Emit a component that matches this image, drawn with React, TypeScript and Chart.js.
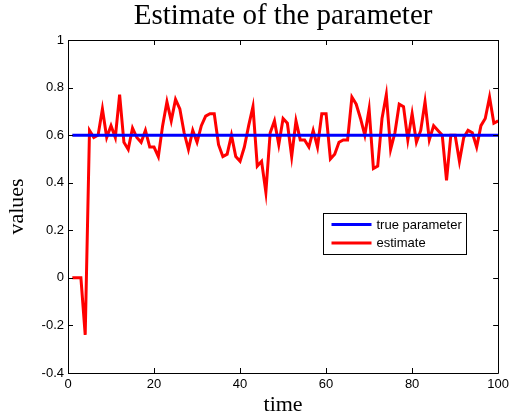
import React, { useEffect, useRef } from "react";
import { Chart, registerables } from "chart.js";

Chart.register(...registerables);

const timeSteps: number[] = Array.from({ length: 100 }, (_, i) => i + 1);
const trueParameter: number[] = timeSteps.map(() => 0.6);
const estimate: number[] = [
  0, 0, 0, -0.24, 0.62, 0.59, 0.6, 0.71, 0.59, 0.64,
  0.59, 0.77, 0.57, 0.54, 0.63, 0.59, 0.57, 0.62, 0.55, 0.55,
  0.51, 0.64, 0.74, 0.66, 0.75, 0.71, 0.61, 0.54, 0.62, 0.57,
  0.64, 0.68, 0.69, 0.69, 0.56, 0.51, 0.52, 0.6, 0.51, 0.49,
  0.55, 0.64, 0.72, 0.47, 0.49, 0.36, 0.61, 0.66, 0.56, 0.67,
  0.65, 0.51, 0.66, 0.58, 0.58, 0.55, 0.62, 0.55, 0.69, 0.69,
  0.5, 0.52, 0.57, 0.58, 0.58, 0.76, 0.73, 0.67, 0.6, 0.71,
  0.46, 0.47, 0.67, 0.77, 0.54, 0.61, 0.73, 0.72, 0.58, 0.69,
  0.57, 0.62, 0.74, 0.58, 0.64, 0.62, 0.6, 0.41, 0.6, 0.6,
  0.49, 0.59, 0.62, 0.61, 0.55, 0.64, 0.67, 0.76, 0.65, 0.66,
];
const xTicks: number[] = [0, 20, 40, 60, 80, 100];
const yTicks: number[] = [-0.4, -0.2, 0, 0.2, 0.4, 0.6, 0.8, 1];
const seriesNames: string[] = ["true parameter", "estimate"];
const seriesColors: string[] = ["#0000ff", "#ff0000"];

const frameAndLegend = {
  id: "frameAndLegend",
  afterDraw(chart: any) {
    const { ctx, chartArea, scales } = chart;
    const { left, right, top, bottom } = chartArea;
    ctx.save();
    ctx.strokeStyle = "#000";
    ctx.lineWidth = 1;
    ctx.beginPath();
    ctx.rect(Math.round(left) + 0.5, Math.round(top) + 0.5, Math.round(right - left), Math.round(bottom - top));
    ctx.stroke();
    const tl = 5;
    ctx.beginPath();
    xTicks.forEach((v) => {
      const x = Math.round(scales.x.getPixelForValue(v)) + 0.5;
      ctx.moveTo(x, bottom);
      ctx.lineTo(x, bottom - tl);
      ctx.moveTo(x, top);
      ctx.lineTo(x, top + tl);
    });
    yTicks.forEach((v) => {
      const y = Math.round(scales.y.getPixelForValue(v)) + 0.5;
      ctx.moveTo(left, y);
      ctx.lineTo(left + tl, y);
      ctx.moveTo(right, y);
      ctx.lineTo(right - tl, y);
    });
    ctx.stroke();

    // legend
    const bx = Math.round(left + 255) + 0.5;
    const by = Math.round(top + 173) + 0.5;
    const bw = 143;
    const bh = 41;
    ctx.fillStyle = "#fff";
    ctx.fillRect(bx, by, bw, bh);
    ctx.strokeStyle = "#000";
    ctx.lineWidth = 1;
    ctx.strokeRect(bx, by, bw, bh);
    ctx.font = "13px 'Liberation Sans', Arial, sans-serif";
    ctx.textBaseline = "middle";
    ctx.textAlign = "left";
    seriesNames.forEach((name, i) => {
      const y = by + 11 + i * 18.5;
      ctx.strokeStyle = seriesColors[i];
      ctx.lineWidth = 3;
      ctx.beginPath();
      ctx.moveTo(bx + 8, y);
      ctx.lineTo(bx + 48, y);
      ctx.stroke();
      ctx.fillStyle = "#000";
      ctx.fillText(name, bx + 53, y + 0.5);
    });
    ctx.restore();
  },
};

export default function App() {
  const canvasRef = useRef<HTMLCanvasElement | null>(null);

  useEffect(() => {
    if (!canvasRef.current) return;
    const chart = new Chart(canvasRef.current, {
      type: "line",
      data: {
        labels: timeSteps,
        datasets: [
          {
            label: seriesNames[0],
            data: timeSteps.map((t, i) => ({ x: t, y: trueParameter[i] })),
            borderColor: seriesColors[0],
            borderWidth: 3,
            pointRadius: 0,
            tension: 0,
          },
          {
            label: seriesNames[1],
            data: timeSteps.map((t, i) => ({ x: t, y: estimate[i] })),
            borderColor: seriesColors[1],
            borderWidth: 3,
            pointRadius: 0,
            tension: 0,
          },
        ],
      },
      options: {
        animation: false,
        responsive: false,
        maintainAspectRatio: false,
        devicePixelRatio: 1,
        layout: { padding: { top: 0, right: 12, bottom: 0, left: 0 } },
        plugins: {
          legend: { display: false },
          tooltip: { enabled: false },
          title: {
            display: true,
            text: "Estimate of the parameter",
            fullSize: false,
            color: "#000",
            font: { family: "'Liberation Serif', 'Times New Roman', serif", size: 29, weight: "normal", lineHeight: 1 },
            padding: { top: 2, bottom: 9 },
          },
        },
        scales: {
          x: {
            type: "linear",
            min: 0,
            max: 100,
            afterBuildTicks: (s: any) => {
              s.ticks = xTicks.map((v) => ({ value: v }));
            },
            afterFit: (s: any) => {
              s.height = 45;
            },
            grid: { display: false, drawTicks: false },
            border: { display: false },
            ticks: {
              color: "#000",
              padding: 4,
              maxRotation: 0,
              font: { family: "'Liberation Sans', Arial, sans-serif", size: 13 },
              callback: (v: any) => String(v),
            },
            title: {
              display: true,
              text: "time",
              color: "#000",
              padding: { top: 0, bottom: 0 },
              font: { family: "'Liberation Serif', 'Times New Roman', serif", size: 22, lineHeight: 1.2 },
            },
          },
          y: {
            type: "linear",
            min: -0.4,
            max: 1,
            afterBuildTicks: (s: any) => {
              s.ticks = yTicks.map((v) => ({ value: v }));
            },
            afterFit: (s: any) => {
              s.width = 68;
            },
            grid: { display: false, drawTicks: false },
            border: { display: false },
            ticks: {
              color: "#000",
              padding: 4,
              font: { family: "'Liberation Sans', Arial, sans-serif", size: 13 },
              callback: (v: any) => String(Math.round(Number(v) * 10) / 10),
            },
            title: {
              display: true,
              text: "values",
              color: "#000",
              padding: { top: 4, bottom: 0 },
              font: { family: "'Liberation Serif', 'Times New Roman', serif", size: 22, lineHeight: 1.2 },
            },
          },
        },
      },
      plugins: [frameAndLegend],
    });
    return () => chart.destroy();
  }, []);

  return (
    <div style={{ position: "fixed", left: 0, top: 0, width: 513, height: 418, background: "#fff" }}>
      <canvas ref={canvasRef} width={513} height={418} style={{ display: "block", width: 513, height: 418 }} />
    </div>
  );
}
